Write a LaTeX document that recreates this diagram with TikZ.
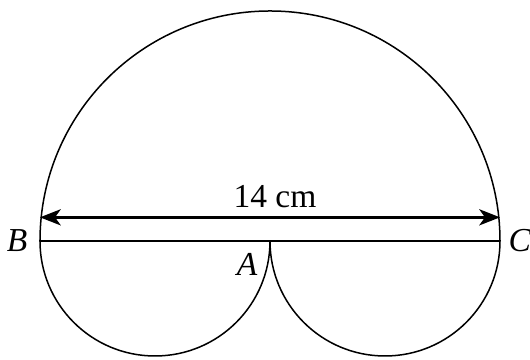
\documentclass[tikz,border=0pt]{standalone}
\usepackage{fontspec}
\setmainfont{Liberation Serif}
\usetikzlibrary{arrows.meta}
\tikzset{
    arc/.style={draw, line width=0.65pt},
    diam/.style={draw, line width=1.1pt},
    dimline/.style={draw, line width=1.1pt, {Stealth[length=9pt, width=7pt, inset=2.5pt]}-{Stealth[length=9pt, width=7pt, inset=2.5pt]}},
    point/.style={font=\fontsize{14.5}{17}\selectfont\itshape, inner sep=1pt},
    size/.style={font=\fontsize{14.5}{17}\selectfont, inner sep=1pt}
}
\begin{document}
\begin{tikzpicture}[x=0.5cm, y=0.5cm]
\useasboundingbox (-8.217,-3.621) rectangle (7.913,7.334);
% Points on the diameter
\coordinate (A) at (0,0);
\coordinate (B) at (-7,0);
\coordinate (C) at (7,0);
\coordinate (dB) at (-7,0.72);
\coordinate (dC) at (7,0.72);

% Big semicircle on BC
\draw[arc] (C) arc (0:180:7);

% Small semicircles on BA and AC
\draw[arc] (B) arc (180:360:3.5);
\draw[arc] (A) arc (180:360:3.5);

\draw[diam] (B) -- (C);
\draw[dimline] (dB) -- (dC);

% Labels
\node[size] (len) at (0.15,1.36) {14 cm};
\node[point] (lB) at (-7.7,0) {B};
\node[point] (lC) at (7.6,0) {C};
\node[point] (lA) at (-0.7,-0.7) {A};
\end{tikzpicture}
\end{document}
